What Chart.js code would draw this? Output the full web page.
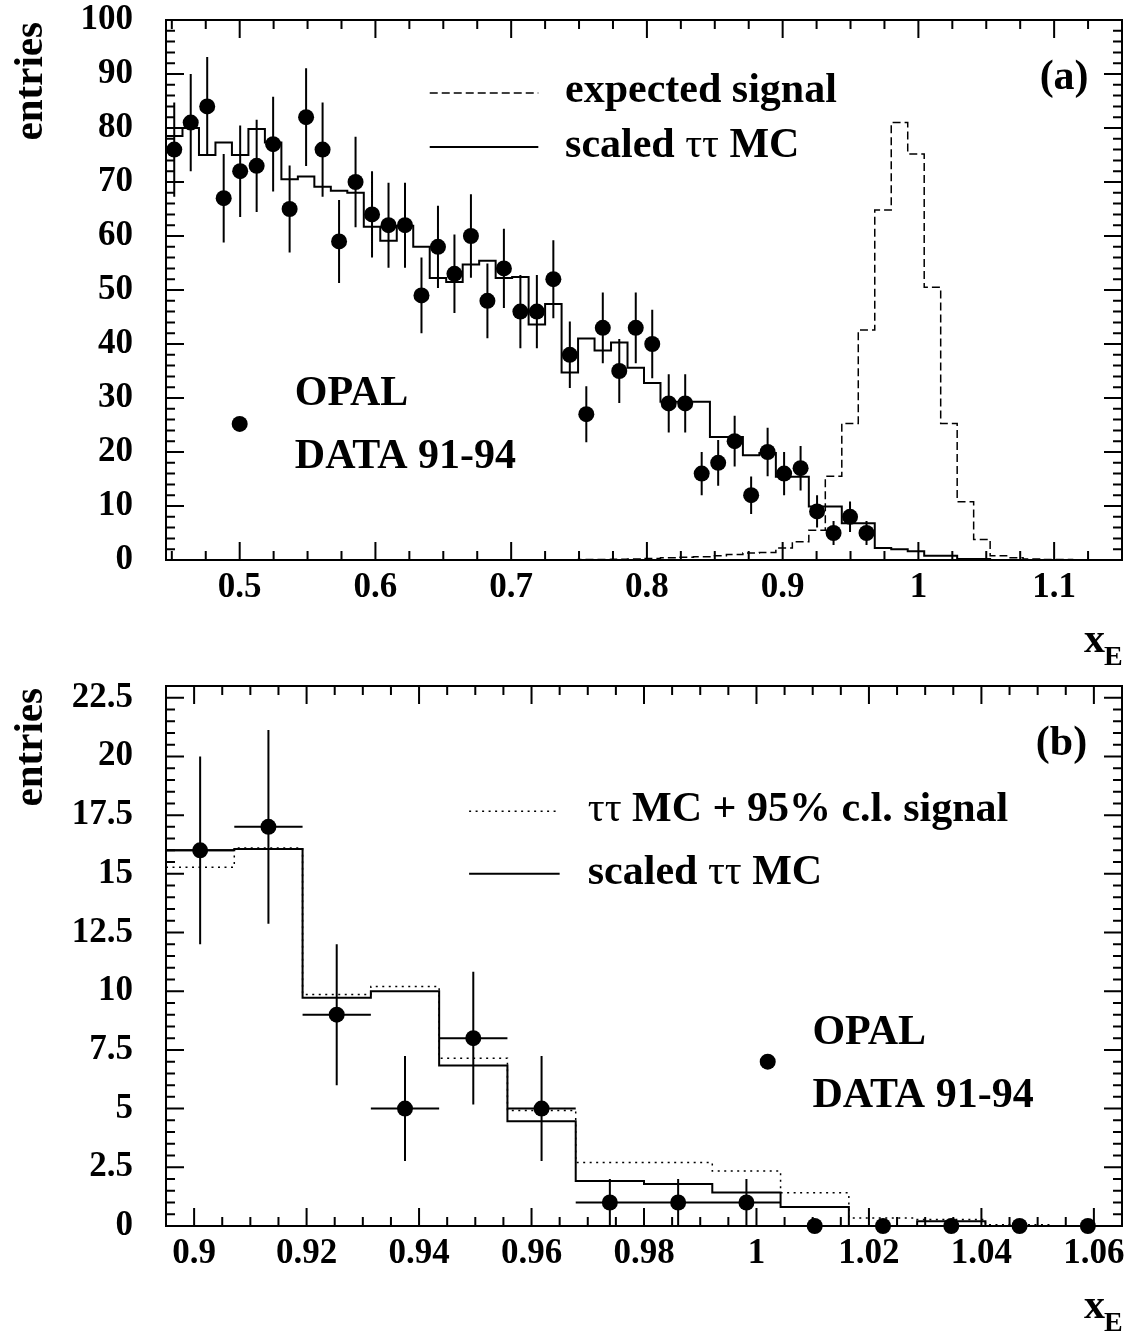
<!DOCTYPE html>
<html>
<head>
<meta charset="utf-8">
<script src="https://cdn.jsdelivr.net/npm/chart.js@4.4.0/dist/chart.umd.min.js"></script>
<style>
  body { margin: 0; background: #fff; }
  canvas { display: block; }
</style>
</head>
<body>
<canvas id="chartA" width="1130" height="667"></canvas>
<canvas id="chartB" width="1130" height="667"></canvas>
<script>
// binning of x_E (same bins in both panels)
const binWidth = 0.17 / 14;
const firstEdgeA = 0.895 - 37 * binWidth;
const firstEdgeB = 0.895;

// panel (a): data entries per bin (from the first bin on)
const dataA = [76, 81, 84, 67, 72, 73, 77, 65, 82, 76, 59, 70, 64, 62, 62, 49, 58, 53, 60, 48,
               54, 46, 46, 52, 38, 27, 43, 35, 43, 40, 29, 29, 16, 18, 22, 12, 20, 16, 17, 9,
               5, 8, 5];
// panel (a): scaled tau-tau MC, 58 bins
const mcA = [78.5, 80, 75, 77.3, 75, 79.8, 77.3, 70.5, 71, 69.1, 68.4, 68, 61.7, 59.1, 61.9, 58, 52.2, 51.5, 54.7, 55.4,
             52.2, 52.4, 43.6, 47.4, 34.7, 41, 38.8, 40.3, 35.6, 32.8, 29.3, 29.3, 29.3, 22.8, 22.8, 19.4, 19.8, 15.4, 15.4, 9.9,
             9.9, 6.8, 6.8, 2.2, 2.0, 1.6, 0.8, 0.8, 0.2, 0.2, 0, 0, 0, 0, 0, 0, 0, 0];
// panel (a): expected signal, 58 bins
const signalA = [0, 0, 0, 0, 0, 0, 0, 0, 0, 0, 0, 0, 0, 0, 0, 0, 0, 0, 0, 0,
                 0, 0, 0, 0, 0.05, 0.1, 0.1, 0.15, 0.2, 0.3, 0.4, 0.5, 0.6, 0.8, 1.0, 1.3, 1.4, 2.2, 3.4, 5.5,
                 15.5, 25.3, 42.6, 64.8, 81, 75.2, 50.5, 25.3, 10.8, 3.8, 0.8, 0.4, 0.2, 0.1, 0.1, 0.05, 0.05, 0];

// panel (b): 14 bins from 0.895
const dataB = [16, 17, 9, 5, 8, 5, 1, 1, 1, 0, 0, 0, 0, 0];
const mcB = [16.0, 16.06, 9.72, 10.0, 6.84, 4.46, 1.92, 1.79, 1.43, 0.81, 0, 0.2, 0, 0];
const mcSignalB = [15.28, 16.1, 9.86, 10.2, 7.15, 4.92, 2.7, 2.7, 2.34, 1.42, 0.34, 0.28, 0.05, 0];

// tick labels
const xTicksA = [0.5, 0.6, 0.7, 0.8, 0.9, 1, 1.1];
const yTicksA = [0, 10, 20, 30, 40, 50, 60, 70, 80, 90, 100];
const xTicksB = [0.9, 0.92, 0.94, 0.96, 0.98, 1, 1.02, 1.04, 1.06];
const yTicksB = [0, 2.5, 5, 7.5, 10, 12.5, 15, 17.5, 20, 22.5];

const serif = '"Liberation Serif", "Times New Roman", serif';
const bold = (px) => 'bold ' + px + 'px ' + serif;

function histLine(edge0, values) {
  const pts = values.map((v, i) => ({x: edge0 + i * binWidth, y: v}));
  pts.push({x: edge0 + values.length * binWidth, y: values[values.length - 1]});
  return pts;
}
function dots(edge0, values) {
  return values.map((v, i) => ({x: edge0 + (i + 0.5) * binWidth, y: v}));
}
function errorBars(edge0, values, horizontal) {
  const pts = [];
  values.forEach((v, i) => {
    const c = edge0 + (i + 0.5) * binWidth;
    if (v > 0) {
      const e = Math.sqrt(v);
      pts.push({x: c, y: v - e}, {x: c, y: v + e}, {x: c, y: null});
      if (horizontal) {
        pts.push({x: c - binWidth / 2, y: v}, {x: c + binWidth / 2, y: v}, {x: c, y: null});
      }
    }
  });
  return pts;
}
const fmt = (v) => String(+v.toFixed(4));

// frame, inward ticks, in-plot texts
const decor = {
  id: 'decor',
  afterDraw(chart, args, o) {
    const {ctx, chartArea: a, scales: {x, y}} = chart;
    ctx.save();
    ctx.strokeStyle = '#000';
    ctx.fillStyle = '#000';
    ctx.lineWidth = 2;
    ctx.strokeRect(a.left, a.top, a.right - a.left, a.bottom - a.top);

    const each = (scale, minor, major, fn) => {
      const i0 = Math.ceil(scale.min / minor - 1e-6), i1 = Math.floor(scale.max / minor + 1e-6);
      for (let i = i0; i <= i1; i++) {
        const v = i * minor;
        const isMajor = Math.abs(v / major - Math.round(v / major)) < 1e-6;
        fn(scale.getPixelForValue(v), isMajor ? 18 : 9);
      }
    };
    ctx.beginPath();
    each(x, o.xMinor, o.xMajor, (p, len) => {
      ctx.moveTo(p, a.bottom); ctx.lineTo(p, a.bottom - len);
      ctx.moveTo(p, a.top); ctx.lineTo(p, a.top + len);
    });
    each(y, o.yMinor, o.yMajor, (p, len) => {
      ctx.moveTo(a.left, p); ctx.lineTo(a.left + len, p);
      ctx.moveTo(a.right, p); ctx.lineTo(a.right - len, p);
    });
    ctx.stroke();

    // legend samples
    o.lines.forEach(l => {
      ctx.setLineDash(l.dash);
      ctx.lineWidth = l.width;
      ctx.beginPath();
      ctx.moveTo(x.getPixelForValue(l.x0), y.getPixelForValue(l.y));
      ctx.lineTo(x.getPixelForValue(l.x1), y.getPixelForValue(l.y));
      ctx.stroke();
    });
    ctx.setLineDash([]);
    o.marks.forEach(m => {
      ctx.beginPath();
      ctx.arc(x.getPixelForValue(m.x), y.getPixelForValue(m.y), 8, 0, Math.PI * 2);
      ctx.fill();
    });

    // texts, made of parts with their own font
    ctx.textBaseline = 'alphabetic';
    o.texts.forEach(t => {
      let px = x.getPixelForValue(t.x);
      const py = y.getPixelForValue(t.y);
      let w = 0;
      t.parts.forEach(p => { ctx.font = p[1]; w += ctx.measureText(p[0]).width; });
      if (t.align === 'right') px -= w;
      ctx.textAlign = 'left';
      t.parts.forEach(p => {
        ctx.font = p[1];
        ctx.fillText(p[0], px, py);
        px += ctx.measureText(p[0]).width;
      });
    });

    // axis titles
    ctx.font = bold(42);
    ctx.textAlign = 'right';
    ctx.fillText('x', a.right - 17, a.bottom + 92);
    ctx.font = bold(28);
    ctx.textAlign = 'left';
    ctx.fillText('E', a.right - 18, a.bottom + 105);

    ctx.translate(42, a.top + 2);
    ctx.rotate(-Math.PI / 2);
    ctx.font = bold(41);
    ctx.textAlign = 'right';
    ctx.fillText('entries', 0, 0);
    ctx.restore();
  }
};

function axes(xMin, xMax, yMax, xTicks, yTicks) {
  const tickFont = {family: serif, weight: 'bold', size: 35, lineHeight: 1};
  return {
    x: {
      type: 'linear', min: xMin, max: xMax,
      grid: {display: false, drawTicks: true, tickLength: 10}, border: {display: false},
      afterBuildTicks: s => { s.ticks = xTicks.map(v => ({value: v})); },
      afterFit: s => { s.height = 60; },
      ticks: {color: '#000', font: tickFont, padding: 0, maxRotation: 0, autoSkip: false, callback: fmt}
    },
    y: {
      type: 'linear', min: 0, max: yMax,
      grid: {display: false, drawTicks: true, tickLength: 33}, border: {display: false},
      afterBuildTicks: s => { s.ticks = yTicks.map(v => ({value: v})); },
      afterFit: s => { s.width = 166; },
      ticks: {color: '#000', font: tickFont, padding: 0, autoSkip: false, callback: fmt}
    }
  };
}

const regular = '42px ' + serif;

new Chart(document.getElementById('chartA'), {
  type: 'line',
  data: {
    datasets: [
      {data: dots(firstEdgeA, dataA), showLine: false, pointRadius: 8, pointBackgroundColor: '#000', pointBorderWidth: 0, clip: false},
      {data: errorBars(firstEdgeA, dataA, false), borderColor: '#000', borderWidth: 2, pointRadius: 0, spanGaps: false},
      {data: histLine(firstEdgeA, mcA), stepped: true, borderColor: '#000', borderWidth: 2, pointRadius: 0},
      {data: histLine(firstEdgeA, signalA), stepped: true, borderColor: '#000', borderWidth: 1.5, borderDash: [8, 4], pointRadius: 0}
    ]
  },
  options: {
    responsive: false, animation: false, events: [],
    layout: {padding: {top: 20, right: 8, bottom: 47, left: 0}},
    scales: axes(firstEdgeA, firstEdgeA + 58 * binWidth, 100, xTicksA, yTicksA),
    plugins: {
      legend: {display: false}, tooltip: {enabled: false},
      decor: {
        xMinor: 0.025, xMajor: 0.1, yMinor: 2, yMajor: 10,
        lines: [
          {x0: 0.640, x1: 0.720, y: 86.5, dash: [8, 4], width: 1.5},
          {x0: 0.640, x1: 0.720, y: 76.5, dash: [], width: 2}
        ],
        marks: [{x: 0.5, y: 25.2}],
        texts: [
          {x: 0.7397, y: 84.8, parts: [['expected signal', bold(42)]]},
          {x: 0.7397, y: 74.6, parts: [['scaled ', bold(42)], ['ττ', regular], [' MC', bold(42)]]},
          {x: 1.1254, y: 87.2, align: 'right', parts: [['(a)', bold(42)]]},
          {x: 0.5406, y: 28.7, parts: [['OPAL', bold(42)]]},
          {x: 0.5406, y: 17.0, parts: [['DATA 91-94', bold(42)]]}
        ]
      }
    }
  },
  plugins: [decor]
});

new Chart(document.getElementById('chartB'), {
  type: 'line',
  data: {
    datasets: [
      {data: dots(firstEdgeB, dataB), showLine: false, pointRadius: 8, pointBackgroundColor: '#000', pointBorderWidth: 0, clip: false},
      {data: errorBars(firstEdgeB, dataB, true), borderColor: '#000', borderWidth: 2, pointRadius: 0, spanGaps: false},
      {data: histLine(firstEdgeB, mcB), stepped: true, borderColor: '#000', borderWidth: 2, pointRadius: 0},
      {data: histLine(firstEdgeB, mcSignalB), stepped: true, borderColor: '#000', borderWidth: 1.5, borderDash: [2, 4.5], pointRadius: 0}
    ]
  },
  options: {
    responsive: false, animation: false, events: [],
    layout: {padding: {top: 19, right: 8, bottom: 48, left: 0}},
    scales: axes(firstEdgeB, firstEdgeB + 14 * binWidth, 23, xTicksB, yTicksB),
    plugins: {
      legend: {display: false}, tooltip: {enabled: false},
      decor: {
        xMinor: 0.005, xMajor: 0.02, yMinor: 0.5, yMajor: 2.5,
        lines: [
          {x0: 0.9489, x1: 0.965, y: 17.66, dash: [2, 4.5], width: 1.5},
          {x0: 0.9489, x1: 0.965, y: 15.0, dash: [], width: 2}
        ],
        marks: [{x: 1.002, y: 7.0}],
        texts: [
          {x: 0.970, y: 17.26, parts: [['ττ', regular], [' MC + 95% c.l. signal', bold(42)]]},
          {x: 0.970, y: 14.58, parts: [['scaled ', bold(42)], ['ττ', regular], [' MC', bold(42)]]},
          {x: 1.0588, y: 20.07, align: 'right', parts: [['(b)', bold(42)]]},
          {x: 1.00995, y: 7.76, parts: [['OPAL', bold(42)]]},
          {x: 1.00995, y: 5.06, parts: [['DATA 91-94', bold(42)]]}
        ]
      }
    }
  },
  plugins: [decor]
});
</script>
</body>
</html>
